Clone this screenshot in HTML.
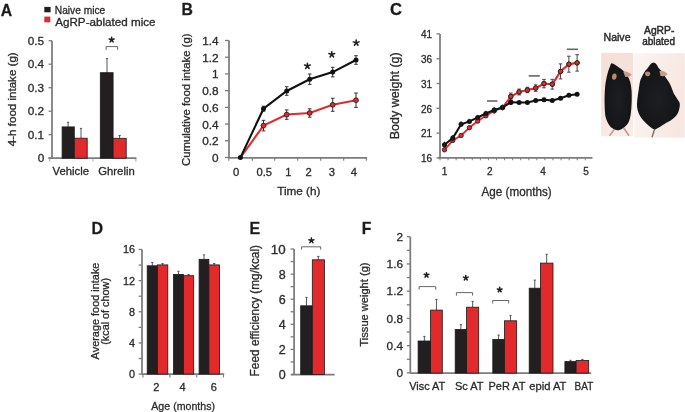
<!DOCTYPE html>
<html><head><meta charset="utf-8"><style>
html,body{margin:0;padding:0;background:#fff;}
body{width:685px;height:412px;overflow:hidden;}
svg{display:block;font-family:"Liberation Sans",sans-serif;filter:blur(0.35px);}
text{stroke:#2b2b2b;stroke-width:0.3px;}
</style></head><body>
<svg width="685" height="412" viewBox="0 0 685 412">
<rect width="685" height="412" fill="#fff"/>
<text x="0.80" y="15.60" font-size="16.5" text-anchor="start" font-weight="bold" fill="#1a1a1a" textLength="11.40" lengthAdjust="spacingAndGlyphs">A</text>
<rect x="44.30" y="6.90" width="6.30" height="5.40" fill="#231f20" stroke="none" stroke-width="0.8"/>
<rect x="44.30" y="16.60" width="6.00" height="5.70" fill="#e2292b" stroke="none" stroke-width="0.8"/>
<text x="54.80" y="13.70" font-size="10.8" text-anchor="start" font-weight="normal" fill="#2b2b2b" textLength="50.40" lengthAdjust="spacingAndGlyphs">Naive mice</text>
<text x="55.20" y="25.50" font-size="10.8" text-anchor="start" font-weight="normal" fill="#2b2b2b" textLength="100.40" lengthAdjust="spacingAndGlyphs">AgRP-ablated mice</text>
<line x1="52.00" y1="40.70" x2="52.00" y2="158.20" stroke="#7c7c7c" stroke-width="1.75"/>
<line x1="48.60" y1="158.20" x2="52.00" y2="158.20" stroke="#7c7c7c" stroke-width="1.3"/>
<text x="44.20" y="162.40" font-size="11.8" text-anchor="end" font-weight="normal" fill="#2b2b2b">0</text>
<line x1="48.60" y1="134.70" x2="52.00" y2="134.70" stroke="#7c7c7c" stroke-width="1.3"/>
<text x="44.20" y="138.90" font-size="11.8" text-anchor="end" font-weight="normal" fill="#2b2b2b">0.1</text>
<line x1="48.60" y1="111.20" x2="52.00" y2="111.20" stroke="#7c7c7c" stroke-width="1.3"/>
<text x="44.20" y="115.40" font-size="11.8" text-anchor="end" font-weight="normal" fill="#2b2b2b">0.2</text>
<line x1="48.60" y1="87.70" x2="52.00" y2="87.70" stroke="#7c7c7c" stroke-width="1.3"/>
<text x="44.20" y="91.90" font-size="11.8" text-anchor="end" font-weight="normal" fill="#2b2b2b">0.3</text>
<line x1="48.60" y1="64.20" x2="52.00" y2="64.20" stroke="#7c7c7c" stroke-width="1.3"/>
<text x="44.20" y="68.40" font-size="11.8" text-anchor="end" font-weight="normal" fill="#2b2b2b">0.4</text>
<line x1="48.60" y1="40.70" x2="52.00" y2="40.70" stroke="#7c7c7c" stroke-width="1.3"/>
<text x="44.20" y="44.90" font-size="11.8" text-anchor="end" font-weight="normal" fill="#2b2b2b">0.5</text>
<line x1="48.30" y1="158.20" x2="136.40" y2="158.20" stroke="#7c7c7c" stroke-width="1.75"/>
<line x1="49.70" y1="158.20" x2="49.70" y2="161.60" stroke="#9a9a9a" stroke-width="0.9"/>
<line x1="93.00" y1="158.20" x2="93.00" y2="161.60" stroke="#9a9a9a" stroke-width="0.9"/>
<line x1="135.90" y1="158.20" x2="135.90" y2="161.60" stroke="#9a9a9a" stroke-width="0.9"/>
<line x1="68.10" y1="126.90" x2="68.10" y2="122.30" stroke="#444" stroke-width="0.9"/>
<line x1="67.00" y1="122.30" x2="69.20" y2="122.30" stroke="#444" stroke-width="0.9"/>
<rect x="62.10" y="126.90" width="12.20" height="31.30" fill="#231f20" stroke="#1a1a1a" stroke-width="0.8"/>
<line x1="81.00" y1="138.20" x2="81.00" y2="128.40" stroke="#444" stroke-width="0.9"/>
<line x1="79.90" y1="128.40" x2="82.10" y2="128.40" stroke="#444" stroke-width="0.9"/>
<rect x="74.30" y="138.20" width="12.90" height="20.00" fill="#e2292b" stroke="#1a1a1a" stroke-width="0.8"/>
<line x1="107.00" y1="72.70" x2="107.00" y2="58.60" stroke="#444" stroke-width="0.9"/>
<line x1="105.90" y1="58.60" x2="108.10" y2="58.60" stroke="#444" stroke-width="0.9"/>
<rect x="100.30" y="72.70" width="12.80" height="85.50" fill="#231f20" stroke="#1a1a1a" stroke-width="0.8"/>
<line x1="119.60" y1="138.30" x2="119.60" y2="135.50" stroke="#444" stroke-width="0.9"/>
<line x1="118.50" y1="135.50" x2="120.70" y2="135.50" stroke="#444" stroke-width="0.9"/>
<rect x="113.10" y="138.30" width="13.10" height="19.90" fill="#e2292b" stroke="#1a1a1a" stroke-width="0.8"/>
<text x="52.60" y="175.00" font-size="11.2" text-anchor="start" font-weight="normal" fill="#2b2b2b" textLength="36.50" lengthAdjust="spacingAndGlyphs">Vehicle</text>
<text x="98.30" y="175.20" font-size="11.2" text-anchor="start" font-weight="normal" fill="#2b2b2b" textLength="36.40" lengthAdjust="spacingAndGlyphs">Ghrelin</text>
<path d="M111.65,39.80 L111.65,37.38 M111.65,39.80 L114.08,39.01 M111.65,39.80 L113.15,41.86 M111.65,39.80 L110.15,41.86 M111.65,39.80 L109.22,39.01 " stroke="#1e1e1e" stroke-width="1.55" stroke-linecap="round" fill="none"/>
<path d="M106.10,49.80 V46.60 H117.60 V49.80" fill="none" stroke="#666" stroke-width="1"/>
<text transform="translate(15.60,146.20) rotate(-90)" font-size="11.5" fill="#2b2b2b" textLength="93.90" lengthAdjust="spacingAndGlyphs">4-h food intake (g)</text>
<text x="181.50" y="15.00" font-size="16.5" text-anchor="start" font-weight="bold" fill="#1a1a1a" textLength="11.40" lengthAdjust="spacingAndGlyphs">B</text>
<line x1="229.00" y1="40.50" x2="229.00" y2="157.50" stroke="#7c7c7c" stroke-width="1.75"/>
<line x1="225.00" y1="157.50" x2="229.00" y2="157.50" stroke="#7c7c7c" stroke-width="1.3"/>
<text x="218.60" y="162.00" font-size="11.8" text-anchor="end" font-weight="normal" fill="#2b2b2b">0</text>
<line x1="225.00" y1="140.79" x2="229.00" y2="140.79" stroke="#7c7c7c" stroke-width="1.3"/>
<text x="218.60" y="145.29" font-size="11.8" text-anchor="end" font-weight="normal" fill="#2b2b2b">0.2</text>
<line x1="225.00" y1="124.07" x2="229.00" y2="124.07" stroke="#7c7c7c" stroke-width="1.3"/>
<text x="218.60" y="128.57" font-size="11.8" text-anchor="end" font-weight="normal" fill="#2b2b2b">0.4</text>
<line x1="225.00" y1="107.36" x2="229.00" y2="107.36" stroke="#7c7c7c" stroke-width="1.3"/>
<text x="218.60" y="111.86" font-size="11.8" text-anchor="end" font-weight="normal" fill="#2b2b2b">0.6</text>
<line x1="225.00" y1="90.64" x2="229.00" y2="90.64" stroke="#7c7c7c" stroke-width="1.3"/>
<text x="218.60" y="95.14" font-size="11.8" text-anchor="end" font-weight="normal" fill="#2b2b2b">0.8</text>
<line x1="225.00" y1="73.93" x2="229.00" y2="73.93" stroke="#7c7c7c" stroke-width="1.3"/>
<text x="218.60" y="78.43" font-size="11.8" text-anchor="end" font-weight="normal" fill="#2b2b2b">1</text>
<line x1="225.00" y1="57.22" x2="229.00" y2="57.22" stroke="#7c7c7c" stroke-width="1.3"/>
<text x="218.60" y="61.72" font-size="11.8" text-anchor="end" font-weight="normal" fill="#2b2b2b">1.2</text>
<line x1="225.00" y1="40.50" x2="229.00" y2="40.50" stroke="#7c7c7c" stroke-width="1.3"/>
<text x="218.60" y="45.00" font-size="11.8" text-anchor="end" font-weight="normal" fill="#2b2b2b">1.4</text>
<line x1="228.30" y1="157.80" x2="367.00" y2="157.80" stroke="#7c7c7c" stroke-width="1.75"/>
<line x1="228.80" y1="157.50" x2="228.80" y2="160.80" stroke="#7c7c7c" stroke-width="1.1"/>
<line x1="252.40" y1="157.50" x2="252.40" y2="160.80" stroke="#7c7c7c" stroke-width="1.1"/>
<line x1="274.70" y1="157.50" x2="274.70" y2="160.80" stroke="#7c7c7c" stroke-width="1.1"/>
<line x1="297.70" y1="157.50" x2="297.70" y2="160.80" stroke="#7c7c7c" stroke-width="1.1"/>
<line x1="320.70" y1="157.50" x2="320.70" y2="160.80" stroke="#7c7c7c" stroke-width="1.1"/>
<line x1="343.70" y1="157.50" x2="343.70" y2="160.80" stroke="#7c7c7c" stroke-width="1.1"/>
<line x1="366.30" y1="157.50" x2="366.30" y2="160.80" stroke="#7c7c7c" stroke-width="1.1"/>
<line x1="263.50" y1="106.20" x2="263.50" y2="111.20" stroke="#333" stroke-width="1"/>
<line x1="261.70" y1="106.20" x2="265.30" y2="106.20" stroke="#333" stroke-width="1"/>
<line x1="261.70" y1="111.20" x2="265.30" y2="111.20" stroke="#333" stroke-width="1"/>
<line x1="286.70" y1="86.70" x2="286.70" y2="95.30" stroke="#333" stroke-width="1"/>
<line x1="284.90" y1="86.70" x2="288.50" y2="86.70" stroke="#333" stroke-width="1"/>
<line x1="284.90" y1="95.30" x2="288.50" y2="95.30" stroke="#333" stroke-width="1"/>
<line x1="309.70" y1="74.00" x2="309.70" y2="84.40" stroke="#333" stroke-width="1"/>
<line x1="307.90" y1="74.00" x2="311.50" y2="74.00" stroke="#333" stroke-width="1"/>
<line x1="307.90" y1="84.40" x2="311.50" y2="84.40" stroke="#333" stroke-width="1"/>
<line x1="332.70" y1="67.30" x2="332.70" y2="76.90" stroke="#333" stroke-width="1"/>
<line x1="330.90" y1="67.30" x2="334.50" y2="67.30" stroke="#333" stroke-width="1"/>
<line x1="330.90" y1="76.90" x2="334.50" y2="76.90" stroke="#333" stroke-width="1"/>
<line x1="356.00" y1="55.70" x2="356.00" y2="64.30" stroke="#333" stroke-width="1"/>
<line x1="354.20" y1="55.70" x2="357.80" y2="55.70" stroke="#333" stroke-width="1"/>
<line x1="354.20" y1="64.30" x2="357.80" y2="64.30" stroke="#333" stroke-width="1"/>
<line x1="263.50" y1="120.30" x2="263.50" y2="130.90" stroke="#333" stroke-width="1"/>
<line x1="261.70" y1="120.30" x2="265.30" y2="120.30" stroke="#333" stroke-width="1"/>
<line x1="261.70" y1="130.90" x2="265.30" y2="130.90" stroke="#333" stroke-width="1"/>
<line x1="286.70" y1="109.90" x2="286.70" y2="119.30" stroke="#333" stroke-width="1"/>
<line x1="284.90" y1="109.90" x2="288.50" y2="109.90" stroke="#333" stroke-width="1"/>
<line x1="284.90" y1="119.30" x2="288.50" y2="119.30" stroke="#333" stroke-width="1"/>
<line x1="309.70" y1="108.80" x2="309.70" y2="117.20" stroke="#333" stroke-width="1"/>
<line x1="307.90" y1="108.80" x2="311.50" y2="108.80" stroke="#333" stroke-width="1"/>
<line x1="307.90" y1="117.20" x2="311.50" y2="117.20" stroke="#333" stroke-width="1"/>
<line x1="332.70" y1="98.30" x2="332.70" y2="111.30" stroke="#333" stroke-width="1"/>
<line x1="330.90" y1="98.30" x2="334.50" y2="98.30" stroke="#333" stroke-width="1"/>
<line x1="330.90" y1="111.30" x2="334.50" y2="111.30" stroke="#333" stroke-width="1"/>
<line x1="356.00" y1="93.00" x2="356.00" y2="107.40" stroke="#333" stroke-width="1"/>
<line x1="354.20" y1="93.00" x2="357.80" y2="93.00" stroke="#333" stroke-width="1"/>
<line x1="354.20" y1="107.40" x2="357.80" y2="107.40" stroke="#333" stroke-width="1"/>
<polyline points="240.4,157.6 263.5,125.6 286.7,114.6 309.7,113.0 332.7,104.8 356.0,100.2" fill="none" stroke="#e2292b" stroke-width="2"/>
<polyline points="240.4,157.6 263.5,108.7 286.7,91.0 309.7,79.2 332.7,72.1 356.0,60.0" fill="none" stroke="#111" stroke-width="2.1"/>
<circle cx="263.5" cy="125.6" r="2.4" fill="#e2292b" stroke="#222" stroke-width="0.9"/>
<circle cx="286.7" cy="114.6" r="2.4" fill="#e2292b" stroke="#222" stroke-width="0.9"/>
<circle cx="309.7" cy="113.0" r="2.4" fill="#e2292b" stroke="#222" stroke-width="0.9"/>
<circle cx="332.7" cy="104.8" r="2.4" fill="#e2292b" stroke="#222" stroke-width="0.9"/>
<circle cx="356.0" cy="100.2" r="2.4" fill="#e2292b" stroke="#222" stroke-width="0.9"/>
<circle cx="240.4" cy="157.6" r="2.5" fill="#111"/>
<circle cx="263.5" cy="108.7" r="2.5" fill="#111"/>
<circle cx="286.7" cy="91.0" r="2.5" fill="#111"/>
<circle cx="309.7" cy="79.2" r="2.5" fill="#111"/>
<circle cx="332.7" cy="72.1" r="2.5" fill="#111"/>
<circle cx="356.0" cy="60.0" r="2.5" fill="#111"/>
<text x="236.00" y="175.50" font-size="11.2" text-anchor="middle" font-weight="normal" fill="#2b2b2b">0</text>
<text x="264.30" y="175.50" font-size="11.2" text-anchor="middle" font-weight="normal" fill="#2b2b2b">0.5</text>
<text x="288.30" y="175.50" font-size="11.2" text-anchor="middle" font-weight="normal" fill="#2b2b2b">1</text>
<text x="308.60" y="175.50" font-size="11.2" text-anchor="middle" font-weight="normal" fill="#2b2b2b">2</text>
<text x="331.80" y="175.50" font-size="11.2" text-anchor="middle" font-weight="normal" fill="#2b2b2b">3</text>
<text x="353.80" y="175.50" font-size="11.2" text-anchor="middle" font-weight="normal" fill="#2b2b2b">4</text>
<text x="277.20" y="194.80" font-size="11.3" text-anchor="start" font-weight="normal" fill="#2b2b2b" textLength="43.30" lengthAdjust="spacingAndGlyphs">Time (h)</text>
<path d="M307.40,66.00 L307.40,63.15 M307.40,66.00 L310.25,65.07 M307.40,66.00 L309.16,68.43 M307.40,66.00 L305.64,68.43 M307.40,66.00 L304.55,65.07 " stroke="#1e1e1e" stroke-width="1.55" stroke-linecap="round" fill="none"/>
<path d="M331.80,54.50 L331.80,51.65 M331.80,54.50 L334.65,53.57 M331.80,54.50 L333.56,56.93 M331.80,54.50 L330.04,56.93 M331.80,54.50 L328.95,53.57 " stroke="#1e1e1e" stroke-width="1.55" stroke-linecap="round" fill="none"/>
<path d="M356.20,42.80 L356.20,39.95 M356.20,42.80 L359.05,41.87 M356.20,42.80 L357.96,45.23 M356.20,42.80 L354.44,45.23 M356.20,42.80 L353.35,41.87 " stroke="#1e1e1e" stroke-width="1.55" stroke-linecap="round" fill="none"/>
<text transform="translate(189.90,166.00) rotate(-90)" font-size="11.8" fill="#2b2b2b" textLength="132.50" lengthAdjust="spacingAndGlyphs">Cumulative food intake (g)</text>
<text x="390.00" y="15.00" font-size="16.5" text-anchor="start" font-weight="bold" fill="#1a1a1a" textLength="12.00" lengthAdjust="spacingAndGlyphs">C</text>
<line x1="440.00" y1="33.90" x2="440.00" y2="157.90" stroke="#7c7c7c" stroke-width="1.75"/>
<line x1="436.50" y1="157.90" x2="440.00" y2="157.90" stroke="#7c7c7c" stroke-width="1.3"/>
<text x="432.00" y="162.10" font-size="10" text-anchor="end" font-weight="normal" fill="#2b2b2b">16</text>
<line x1="436.50" y1="133.10" x2="440.00" y2="133.10" stroke="#7c7c7c" stroke-width="1.3"/>
<text x="432.00" y="137.30" font-size="10" text-anchor="end" font-weight="normal" fill="#2b2b2b">21</text>
<line x1="436.50" y1="108.30" x2="440.00" y2="108.30" stroke="#7c7c7c" stroke-width="1.3"/>
<text x="432.00" y="112.50" font-size="10" text-anchor="end" font-weight="normal" fill="#2b2b2b">26</text>
<line x1="436.50" y1="83.50" x2="440.00" y2="83.50" stroke="#7c7c7c" stroke-width="1.3"/>
<text x="432.00" y="87.70" font-size="10" text-anchor="end" font-weight="normal" fill="#2b2b2b">31</text>
<line x1="436.50" y1="58.70" x2="440.00" y2="58.70" stroke="#7c7c7c" stroke-width="1.3"/>
<text x="432.00" y="62.90" font-size="10" text-anchor="end" font-weight="normal" fill="#2b2b2b">36</text>
<line x1="436.50" y1="33.90" x2="440.00" y2="33.90" stroke="#7c7c7c" stroke-width="1.3"/>
<text x="432.00" y="38.10" font-size="10" text-anchor="end" font-weight="normal" fill="#2b2b2b">41</text>
<line x1="438.10" y1="157.80" x2="592.50" y2="157.80" stroke="#7c7c7c" stroke-width="1.75"/>
<line x1="440.00" y1="157.80" x2="440.00" y2="160.30" stroke="#7c7c7c" stroke-width="1.0"/>
<line x1="448.07" y1="157.80" x2="448.07" y2="160.30" stroke="#7c7c7c" stroke-width="1.0"/>
<line x1="456.14" y1="157.80" x2="456.14" y2="160.30" stroke="#7c7c7c" stroke-width="1.0"/>
<line x1="464.21" y1="157.80" x2="464.21" y2="160.30" stroke="#7c7c7c" stroke-width="1.0"/>
<line x1="472.28" y1="157.80" x2="472.28" y2="160.30" stroke="#7c7c7c" stroke-width="1.0"/>
<line x1="480.35" y1="157.80" x2="480.35" y2="160.30" stroke="#7c7c7c" stroke-width="1.0"/>
<line x1="488.42" y1="157.80" x2="488.42" y2="160.30" stroke="#7c7c7c" stroke-width="1.0"/>
<line x1="496.49" y1="157.80" x2="496.49" y2="160.30" stroke="#7c7c7c" stroke-width="1.0"/>
<line x1="504.56" y1="157.80" x2="504.56" y2="160.30" stroke="#7c7c7c" stroke-width="1.0"/>
<line x1="512.63" y1="157.80" x2="512.63" y2="160.30" stroke="#7c7c7c" stroke-width="1.0"/>
<line x1="520.70" y1="157.80" x2="520.70" y2="160.30" stroke="#7c7c7c" stroke-width="1.0"/>
<line x1="528.77" y1="157.80" x2="528.77" y2="160.30" stroke="#7c7c7c" stroke-width="1.0"/>
<line x1="536.84" y1="157.80" x2="536.84" y2="160.30" stroke="#7c7c7c" stroke-width="1.0"/>
<line x1="544.91" y1="157.80" x2="544.91" y2="160.30" stroke="#7c7c7c" stroke-width="1.0"/>
<line x1="552.98" y1="157.80" x2="552.98" y2="160.30" stroke="#7c7c7c" stroke-width="1.0"/>
<line x1="561.05" y1="157.80" x2="561.05" y2="160.30" stroke="#7c7c7c" stroke-width="1.0"/>
<line x1="569.12" y1="157.80" x2="569.12" y2="160.30" stroke="#7c7c7c" stroke-width="1.0"/>
<line x1="577.19" y1="157.80" x2="577.19" y2="160.30" stroke="#7c7c7c" stroke-width="1.0"/>
<line x1="585.26" y1="157.80" x2="585.26" y2="160.30" stroke="#7c7c7c" stroke-width="1.0"/>
<text x="444.60" y="175.30" font-size="10" text-anchor="middle" font-weight="normal" fill="#2b2b2b">1</text>
<text x="489.70" y="175.30" font-size="10" text-anchor="middle" font-weight="normal" fill="#2b2b2b">2</text>
<text x="543.00" y="175.30" font-size="10" text-anchor="middle" font-weight="normal" fill="#2b2b2b">4</text>
<text x="586.00" y="175.30" font-size="10" text-anchor="middle" font-weight="normal" fill="#2b2b2b">5</text>
<text x="481.50" y="195.70" font-size="12.3" text-anchor="start" font-weight="normal" fill="#2b2b2b" textLength="70.20" lengthAdjust="spacingAndGlyphs">Age (months)</text>
<text transform="translate(399.10,139.30) rotate(-90)" font-size="12.6" fill="#2b2b2b" textLength="87.00" lengthAdjust="spacingAndGlyphs">Body weight (g)</text>
<line x1="510.82" y1="93.10" x2="510.82" y2="99.90" stroke="#444" stroke-width="1"/>
<line x1="509.02" y1="93.10" x2="512.62" y2="93.10" stroke="#444" stroke-width="1"/>
<line x1="509.02" y1="99.90" x2="512.62" y2="99.90" stroke="#444" stroke-width="1"/>
<line x1="519.11" y1="89.10" x2="519.11" y2="94.90" stroke="#444" stroke-width="1"/>
<line x1="517.31" y1="89.10" x2="520.91" y2="89.10" stroke="#444" stroke-width="1"/>
<line x1="517.31" y1="94.90" x2="520.91" y2="94.90" stroke="#444" stroke-width="1"/>
<line x1="527.40" y1="87.30" x2="527.40" y2="92.70" stroke="#444" stroke-width="1"/>
<line x1="525.60" y1="87.30" x2="529.20" y2="87.30" stroke="#444" stroke-width="1"/>
<line x1="525.60" y1="92.70" x2="529.20" y2="92.70" stroke="#444" stroke-width="1"/>
<line x1="535.69" y1="84.90" x2="535.69" y2="91.30" stroke="#444" stroke-width="1"/>
<line x1="533.89" y1="84.90" x2="537.49" y2="84.90" stroke="#444" stroke-width="1"/>
<line x1="533.89" y1="91.30" x2="537.49" y2="91.30" stroke="#444" stroke-width="1"/>
<line x1="543.98" y1="79.40" x2="543.98" y2="87.80" stroke="#444" stroke-width="1"/>
<line x1="542.18" y1="79.40" x2="545.78" y2="79.40" stroke="#444" stroke-width="1"/>
<line x1="542.18" y1="87.80" x2="545.78" y2="87.80" stroke="#444" stroke-width="1"/>
<line x1="552.27" y1="79.30" x2="552.27" y2="89.10" stroke="#444" stroke-width="1"/>
<line x1="550.47" y1="79.30" x2="554.07" y2="79.30" stroke="#444" stroke-width="1"/>
<line x1="550.47" y1="89.10" x2="554.07" y2="89.10" stroke="#444" stroke-width="1"/>
<line x1="560.56" y1="63.90" x2="560.56" y2="78.90" stroke="#444" stroke-width="1"/>
<line x1="558.76" y1="63.90" x2="562.36" y2="63.90" stroke="#444" stroke-width="1"/>
<line x1="558.76" y1="78.90" x2="562.36" y2="78.90" stroke="#444" stroke-width="1"/>
<line x1="568.85" y1="56.20" x2="568.85" y2="72.20" stroke="#444" stroke-width="1"/>
<line x1="567.05" y1="56.20" x2="570.65" y2="56.20" stroke="#444" stroke-width="1"/>
<line x1="567.05" y1="72.20" x2="570.65" y2="72.20" stroke="#444" stroke-width="1"/>
<line x1="577.14" y1="54.70" x2="577.14" y2="71.10" stroke="#444" stroke-width="1"/>
<line x1="575.34" y1="54.70" x2="578.94" y2="54.70" stroke="#444" stroke-width="1"/>
<line x1="575.34" y1="71.10" x2="578.94" y2="71.10" stroke="#444" stroke-width="1"/>
<polyline points="444.5,149.8 452.8,140.4 461.1,135.5 469.4,127.7 477.7,121.1 485.9,115.8 494.2,111.0 502.5,107.5 510.8,96.5 519.1,92.0 527.4,90.0 535.7,88.1 544.0,83.6 552.3,84.2 560.6,71.4 568.9,64.2 577.1,62.9" fill="none" stroke="#e2292b" stroke-width="1.8"/>
<circle cx="444.5" cy="149.8" r="2.2" fill="#e2292b" stroke="#222" stroke-width="0.9"/>
<circle cx="452.8" cy="140.4" r="2.2" fill="#e2292b" stroke="#222" stroke-width="0.9"/>
<circle cx="461.1" cy="135.5" r="2.2" fill="#e2292b" stroke="#222" stroke-width="0.9"/>
<circle cx="469.4" cy="127.7" r="2.2" fill="#e2292b" stroke="#222" stroke-width="0.9"/>
<circle cx="477.7" cy="121.1" r="2.2" fill="#e2292b" stroke="#222" stroke-width="0.9"/>
<circle cx="485.9" cy="115.8" r="2.2" fill="#e2292b" stroke="#222" stroke-width="0.9"/>
<circle cx="494.2" cy="111.0" r="2.2" fill="#e2292b" stroke="#222" stroke-width="0.9"/>
<circle cx="502.5" cy="107.5" r="2.2" fill="#e2292b" stroke="#222" stroke-width="0.9"/>
<circle cx="510.8" cy="96.5" r="2.2" fill="#e2292b" stroke="#222" stroke-width="0.9"/>
<circle cx="519.1" cy="92.0" r="2.2" fill="#e2292b" stroke="#222" stroke-width="0.9"/>
<circle cx="527.4" cy="90.0" r="2.2" fill="#e2292b" stroke="#222" stroke-width="0.9"/>
<circle cx="535.7" cy="88.1" r="2.2" fill="#e2292b" stroke="#222" stroke-width="0.9"/>
<circle cx="544.0" cy="83.6" r="2.2" fill="#e2292b" stroke="#222" stroke-width="0.9"/>
<circle cx="552.3" cy="84.2" r="2.2" fill="#e2292b" stroke="#222" stroke-width="0.9"/>
<circle cx="560.6" cy="71.4" r="2.2" fill="#e2292b" stroke="#222" stroke-width="0.9"/>
<circle cx="568.9" cy="64.2" r="2.2" fill="#e2292b" stroke="#222" stroke-width="0.9"/>
<circle cx="577.1" cy="62.9" r="2.2" fill="#e2292b" stroke="#222" stroke-width="0.9"/>
<polyline points="444.5,144.7 452.8,138.1 461.1,124.3 469.4,121.4 477.7,117.5 485.9,113.4 494.2,110.0 502.5,107.5 510.8,102.2" fill="none" stroke="#111" stroke-width="2.1"/>
<circle cx="444.5" cy="144.7" r="2.5" fill="#111"/>
<line x1="444.50" y1="141.60" x2="444.50" y2="147.80" stroke="#222" stroke-width="1.1"/>
<circle cx="452.8" cy="138.1" r="2.5" fill="#111"/>
<line x1="452.79" y1="135.00" x2="452.79" y2="141.20" stroke="#222" stroke-width="1.1"/>
<circle cx="461.1" cy="124.3" r="2.5" fill="#111"/>
<line x1="461.08" y1="121.50" x2="461.08" y2="127.10" stroke="#222" stroke-width="1.1"/>
<circle cx="469.4" cy="121.4" r="2.5" fill="#111"/>
<line x1="469.37" y1="118.80" x2="469.37" y2="124.00" stroke="#222" stroke-width="1.1"/>
<circle cx="477.7" cy="117.5" r="2.5" fill="#111"/>
<line x1="477.66" y1="114.90" x2="477.66" y2="120.10" stroke="#222" stroke-width="1.1"/>
<circle cx="485.9" cy="113.4" r="2.5" fill="#111"/>
<line x1="485.95" y1="110.80" x2="485.95" y2="116.00" stroke="#222" stroke-width="1.1"/>
<circle cx="494.2" cy="110.0" r="2.5" fill="#111"/>
<line x1="494.24" y1="107.10" x2="494.24" y2="112.90" stroke="#222" stroke-width="1.1"/>
<circle cx="502.5" cy="107.5" r="2.5" fill="#111"/>
<line x1="502.53" y1="104.60" x2="502.53" y2="110.40" stroke="#222" stroke-width="1.1"/>
<circle cx="510.8" cy="102.2" r="2.5" fill="#111"/>
<line x1="510.82" y1="99.60" x2="510.82" y2="104.80" stroke="#222" stroke-width="1.1"/>
<polyline points="510.8,102.2 519.1,102.5 527.4,102.5 535.7,100.5 544.0,99.7 552.3,100.5 560.6,98.2 568.9,95.3 577.1,94.3" fill="none" stroke="#111" stroke-width="2.1"/>
<circle cx="510.8" cy="102.2" r="2.5" fill="#111"/>
<circle cx="519.1" cy="102.5" r="2.5" fill="#111"/>
<circle cx="527.4" cy="102.5" r="2.5" fill="#111"/>
<circle cx="535.7" cy="100.5" r="2.5" fill="#111"/>
<circle cx="544.0" cy="99.7" r="2.5" fill="#111"/>
<circle cx="552.3" cy="100.5" r="2.5" fill="#111"/>
<circle cx="560.6" cy="98.2" r="2.5" fill="#111"/>
<circle cx="568.9" cy="95.3" r="2.5" fill="#111"/>
<circle cx="577.1" cy="94.3" r="2.5" fill="#111"/>
<polyline points="510.8,96.5 519.1,92.0 527.4,90.0 535.7,88.1 544.0,83.6 552.3,84.2 560.6,71.4 568.9,64.2 577.1,62.9" fill="none" stroke="#e2292b" stroke-width="1.8"/>
<circle cx="510.8" cy="96.5" r="2.2" fill="#e2292b" stroke="#222" stroke-width="0.9"/>
<circle cx="519.1" cy="92.0" r="2.2" fill="#e2292b" stroke="#222" stroke-width="0.9"/>
<circle cx="527.4" cy="90.0" r="2.2" fill="#e2292b" stroke="#222" stroke-width="0.9"/>
<circle cx="535.7" cy="88.1" r="2.2" fill="#e2292b" stroke="#222" stroke-width="0.9"/>
<circle cx="544.0" cy="83.6" r="2.2" fill="#e2292b" stroke="#222" stroke-width="0.9"/>
<circle cx="552.3" cy="84.2" r="2.2" fill="#e2292b" stroke="#222" stroke-width="0.9"/>
<circle cx="560.6" cy="71.4" r="2.2" fill="#e2292b" stroke="#222" stroke-width="0.9"/>
<circle cx="568.9" cy="64.2" r="2.2" fill="#e2292b" stroke="#222" stroke-width="0.9"/>
<circle cx="577.1" cy="62.9" r="2.2" fill="#e2292b" stroke="#222" stroke-width="0.9"/>
<line x1="486.90" y1="101.00" x2="497.40" y2="101.00" stroke="#666" stroke-width="1.6"/>
<line x1="528.70" y1="75.90" x2="539.80" y2="75.90" stroke="#666" stroke-width="1.6"/>
<line x1="566.90" y1="49.30" x2="578.00" y2="49.30" stroke="#666" stroke-width="1.6"/>
<defs><linearGradient id="bgL" x1="0" y1="0" x2="0.3" y2="1"><stop offset="0" stop-color="#f6e0d8"/><stop offset="0.7" stop-color="#f5e2dc"/><stop offset="1" stop-color="#f8ece9"/></linearGradient><radialGradient id="mg" cx="0.5" cy="0.55" r="0.6"><stop offset="0" stop-color="#1d1e21"/><stop offset="1" stop-color="#121315"/></radialGradient><linearGradient id="bgR" x1="0" y1="0" x2="1" y2="0.3"><stop offset="0" stop-color="#fbf5f2"/><stop offset="0.5" stop-color="#f9eeea"/><stop offset="1" stop-color="#f8e7e1"/></linearGradient></defs>
<rect x="601.2" y="52.8" width="32" height="83.6" fill="url(#bgL)"/>
<rect x="634.4" y="53.2" width="50.3" height="84.3" fill="url(#bgR)"/>
<path d="M614.5,129 L609.5,135.8 M623.5,127.5 L629,135.8" stroke="#c49a8c" stroke-width="1.6" fill="none"/>
<path d="M611.50,63.30 C612.33,63.02 613.75,64.10 615.00,64.80 C616.25,65.50 617.58,66.47 619.00,67.50 C620.42,68.53 622.08,69.58 623.50,71.00 C624.92,72.42 626.38,74.17 627.50,76.00 C628.62,77.83 629.53,79.67 630.20,82.00 C630.87,84.33 631.25,87.00 631.50,90.00 C631.75,93.00 631.75,96.67 631.70,100.00 C631.65,103.33 631.48,107.00 631.20,110.00 C630.92,113.00 630.62,115.67 630.00,118.00 C629.38,120.33 628.75,122.25 627.50,124.00 C626.25,125.75 624.17,127.45 622.50,128.50 C620.83,129.55 619.25,130.38 617.50,130.30 C615.75,130.22 613.50,129.05 612.00,128.00 C610.50,126.95 609.57,125.83 608.50,124.00 C607.43,122.17 606.23,119.83 605.60,117.00 C604.97,114.17 604.87,110.50 604.70,107.00 C604.53,103.50 604.52,99.50 604.60,96.00 C604.68,92.50 604.88,89.00 605.20,86.00 C605.52,83.00 605.98,80.50 606.50,78.00 C607.02,75.50 607.72,72.92 608.30,71.00 C608.88,69.08 609.47,67.78 610.00,66.50 C610.53,65.22 610.67,63.58 611.50,63.30 Z" fill="url(#mg)"/>
<ellipse cx="614.3" cy="76.6" rx="2.3" ry="3.2" fill="#b98b6a" transform="rotate(8 614.3 76.6)"/>
<path d="M623.3,71.8 C626,70.8 629.2,72.2 631.8,74.8 C631,76.4 628,76.8 625.3,77 Z" fill="#c99c86"/>
<path d="M655,128 L652,137.3" stroke="#7d6e6a" stroke-width="1.4" fill="none"/>
<path d="M653.50,62.50 C654.45,62.50 655.42,63.35 656.30,64.30 C657.18,65.25 657.85,67.00 658.80,68.20 C659.75,69.40 660.88,70.00 662.00,71.50 C663.12,73.00 664.33,75.42 665.50,77.20 C666.67,78.98 668.00,80.48 669.00,82.20 C670.00,83.92 670.70,85.62 671.50,87.50 C672.30,89.38 672.88,91.67 673.80,93.50 C674.72,95.33 676.03,96.92 677.00,98.50 C677.97,100.08 679.20,101.38 679.60,103.00 C680.00,104.62 679.80,106.32 679.40,108.20 C679.00,110.08 678.43,112.40 677.20,114.30 C675.97,116.20 674.12,117.98 672.00,119.60 C669.88,121.22 666.83,122.60 664.50,124.00 C662.17,125.40 659.72,127.13 658.00,128.00 C656.28,128.87 655.50,129.37 654.20,129.20 C652.90,129.03 651.88,128.32 650.20,127.00 C648.52,125.68 645.77,123.08 644.10,121.30 C642.43,119.52 641.28,118.18 640.20,116.30 C639.12,114.42 638.13,112.05 637.60,110.00 C637.07,107.95 637.00,106.08 637.00,104.00 C637.00,101.92 637.33,99.75 637.60,97.50 C637.87,95.25 638.22,93.08 638.60,90.50 C638.98,87.92 639.37,84.25 639.90,82.00 C640.43,79.75 640.95,78.78 641.80,77.00 C642.65,75.22 644.03,72.75 645.00,71.30 C645.97,69.85 646.67,69.47 647.60,68.30 C648.53,67.13 649.62,65.27 650.60,64.30 C651.58,63.33 652.55,62.50 653.50,62.50 Z" fill="url(#mg)"/>
<ellipse cx="647.6" cy="73.8" rx="2.6" ry="2.4" fill="#b98b6a"/>
<path d="M659.5,71 C662.5,70.3 665.5,71.8 667.6,74 C667,75.8 664,76.5 660.5,76 Z" fill="#c99c86"/>
<text x="603.50" y="41.00" font-size="10.9" text-anchor="start" font-weight="normal" fill="#2b2b2b" textLength="27.00" lengthAdjust="spacingAndGlyphs" style="stroke-width:0.42px">Naive</text>
<text x="644.00" y="33.60" font-size="10.5" text-anchor="start" font-weight="normal" fill="#2b2b2b" textLength="30.40" lengthAdjust="spacingAndGlyphs" style="stroke-width:0.45px">AgRP-</text>
<text x="642.20" y="44.90" font-size="10.5" text-anchor="start" font-weight="normal" fill="#2b2b2b" textLength="32.80" lengthAdjust="spacingAndGlyphs" style="stroke-width:0.45px">ablated</text>
<text x="91.50" y="233.60" font-size="16.5" text-anchor="start" font-weight="bold" fill="#1a1a1a" textLength="11.60" lengthAdjust="spacingAndGlyphs">D</text>
<line x1="142.00" y1="249.46" x2="142.00" y2="374.10" stroke="#7c7c7c" stroke-width="1.75"/>
<line x1="138.60" y1="374.10" x2="142.00" y2="374.10" stroke="#7c7c7c" stroke-width="1.3"/>
<text x="135.00" y="378.00" font-size="10.8" text-anchor="end" font-weight="normal" fill="#2b2b2b">0</text>
<line x1="138.60" y1="358.52" x2="142.00" y2="358.52" stroke="#7c7c7c" stroke-width="1.3"/>
<line x1="138.60" y1="342.94" x2="142.00" y2="342.94" stroke="#7c7c7c" stroke-width="1.3"/>
<text x="135.00" y="346.84" font-size="10.8" text-anchor="end" font-weight="normal" fill="#2b2b2b">4</text>
<line x1="138.60" y1="327.36" x2="142.00" y2="327.36" stroke="#7c7c7c" stroke-width="1.3"/>
<line x1="138.60" y1="311.78" x2="142.00" y2="311.78" stroke="#7c7c7c" stroke-width="1.3"/>
<text x="135.00" y="315.68" font-size="10.8" text-anchor="end" font-weight="normal" fill="#2b2b2b">8</text>
<line x1="138.60" y1="296.20" x2="142.00" y2="296.20" stroke="#7c7c7c" stroke-width="1.3"/>
<line x1="138.60" y1="280.62" x2="142.00" y2="280.62" stroke="#7c7c7c" stroke-width="1.3"/>
<text x="135.00" y="284.52" font-size="10.8" text-anchor="end" font-weight="normal" fill="#2b2b2b">12</text>
<line x1="138.60" y1="265.04" x2="142.00" y2="265.04" stroke="#7c7c7c" stroke-width="1.3"/>
<line x1="138.60" y1="249.46" x2="142.00" y2="249.46" stroke="#7c7c7c" stroke-width="1.3"/>
<text x="135.00" y="253.36" font-size="10.8" text-anchor="end" font-weight="normal" fill="#2b2b2b">16</text>
<line x1="141.40" y1="374.10" x2="224.20" y2="374.10" stroke="#7c7c7c" stroke-width="1.75"/>
<line x1="143.00" y1="374.10" x2="143.00" y2="377.40" stroke="#7c7c7c" stroke-width="1.1"/>
<line x1="169.90" y1="374.10" x2="169.90" y2="377.40" stroke="#7c7c7c" stroke-width="1.1"/>
<line x1="196.70" y1="374.10" x2="196.70" y2="377.40" stroke="#7c7c7c" stroke-width="1.1"/>
<line x1="223.50" y1="374.10" x2="223.50" y2="377.40" stroke="#7c7c7c" stroke-width="1.1"/>
<line x1="152.30" y1="265.80" x2="152.30" y2="262.50" stroke="#444" stroke-width="0.9"/>
<line x1="151.20" y1="262.50" x2="153.40" y2="262.50" stroke="#444" stroke-width="0.9"/>
<rect x="147.20" y="265.80" width="10.20" height="108.30" fill="#231f20" stroke="#1a1a1a" stroke-width="0.8"/>
<line x1="162.60" y1="264.90" x2="162.60" y2="263.60" stroke="#444" stroke-width="0.9"/>
<line x1="161.50" y1="263.60" x2="163.70" y2="263.60" stroke="#444" stroke-width="0.9"/>
<rect x="157.40" y="264.90" width="10.40" height="109.20" fill="#e2292b" stroke="#1a1a1a" stroke-width="0.8"/>
<line x1="178.45" y1="274.40" x2="178.45" y2="271.30" stroke="#444" stroke-width="0.9"/>
<line x1="177.35" y1="271.30" x2="179.55" y2="271.30" stroke="#444" stroke-width="0.9"/>
<rect x="173.50" y="274.40" width="9.90" height="99.70" fill="#231f20" stroke="#1a1a1a" stroke-width="0.8"/>
<line x1="188.55" y1="275.70" x2="188.55" y2="274.60" stroke="#444" stroke-width="0.9"/>
<line x1="187.45" y1="274.60" x2="189.65" y2="274.60" stroke="#444" stroke-width="0.9"/>
<rect x="183.40" y="275.70" width="10.30" height="98.40" fill="#e2292b" stroke="#1a1a1a" stroke-width="0.8"/>
<line x1="204.00" y1="259.30" x2="204.00" y2="254.90" stroke="#444" stroke-width="0.9"/>
<line x1="202.90" y1="254.90" x2="205.10" y2="254.90" stroke="#444" stroke-width="0.9"/>
<rect x="199.10" y="259.30" width="9.80" height="114.80" fill="#231f20" stroke="#1a1a1a" stroke-width="0.8"/>
<line x1="214.20" y1="264.90" x2="214.20" y2="263.50" stroke="#444" stroke-width="0.9"/>
<line x1="213.10" y1="263.50" x2="215.30" y2="263.50" stroke="#444" stroke-width="0.9"/>
<rect x="208.90" y="264.90" width="10.60" height="109.20" fill="#e2292b" stroke="#1a1a1a" stroke-width="0.8"/>
<text x="156.30" y="391.20" font-size="11" text-anchor="middle" font-weight="normal" fill="#2b2b2b">2</text>
<text x="182.60" y="391.20" font-size="11" text-anchor="middle" font-weight="normal" fill="#2b2b2b">4</text>
<text x="213.90" y="391.20" font-size="11" text-anchor="middle" font-weight="normal" fill="#2b2b2b">6</text>
<text x="151.30" y="409.60" font-size="11.2" text-anchor="start" font-weight="normal" fill="#2b2b2b" textLength="63.70" lengthAdjust="spacingAndGlyphs">Age (months)</text>
<text transform="translate(98.80,359.40) rotate(-90)" font-size="11.2" fill="#2b2b2b" textLength="96.80" lengthAdjust="spacingAndGlyphs">Average food intake</text>
<text transform="translate(109.00,344.80) rotate(-90)" font-size="11.2" fill="#2b2b2b" textLength="66.80" lengthAdjust="spacingAndGlyphs">(kcal of chow)</text>
<text x="249.50" y="233.60" font-size="16.5" text-anchor="start" font-weight="bold" fill="#1a1a1a" textLength="10.60" lengthAdjust="spacingAndGlyphs">E</text>
<line x1="294.10" y1="249.00" x2="294.10" y2="374.50" stroke="#7c7c7c" stroke-width="1.75"/>
<line x1="290.60" y1="374.50" x2="294.10" y2="374.50" stroke="#7c7c7c" stroke-width="1.3"/>
<text x="285.60" y="379.00" font-size="12.5" text-anchor="end" font-weight="normal" fill="#2b2b2b">0</text>
<line x1="290.60" y1="361.95" x2="294.10" y2="361.95" stroke="#7c7c7c" stroke-width="1.3"/>
<line x1="290.60" y1="349.40" x2="294.10" y2="349.40" stroke="#7c7c7c" stroke-width="1.3"/>
<text x="285.60" y="353.90" font-size="12.5" text-anchor="end" font-weight="normal" fill="#2b2b2b">2</text>
<line x1="290.60" y1="336.85" x2="294.10" y2="336.85" stroke="#7c7c7c" stroke-width="1.3"/>
<line x1="290.60" y1="324.30" x2="294.10" y2="324.30" stroke="#7c7c7c" stroke-width="1.3"/>
<text x="285.60" y="328.80" font-size="12.5" text-anchor="end" font-weight="normal" fill="#2b2b2b">4</text>
<line x1="290.60" y1="311.75" x2="294.10" y2="311.75" stroke="#7c7c7c" stroke-width="1.3"/>
<line x1="290.60" y1="299.20" x2="294.10" y2="299.20" stroke="#7c7c7c" stroke-width="1.3"/>
<text x="285.60" y="303.70" font-size="12.5" text-anchor="end" font-weight="normal" fill="#2b2b2b">6</text>
<line x1="290.60" y1="286.65" x2="294.10" y2="286.65" stroke="#7c7c7c" stroke-width="1.3"/>
<line x1="290.60" y1="274.10" x2="294.10" y2="274.10" stroke="#7c7c7c" stroke-width="1.3"/>
<text x="285.60" y="278.60" font-size="12.5" text-anchor="end" font-weight="normal" fill="#2b2b2b">8</text>
<line x1="290.60" y1="261.55" x2="294.10" y2="261.55" stroke="#7c7c7c" stroke-width="1.3"/>
<line x1="290.60" y1="249.00" x2="294.10" y2="249.00" stroke="#7c7c7c" stroke-width="1.3"/>
<text x="285.60" y="253.60" font-size="12.5" text-anchor="end" font-weight="normal" fill="#2b2b2b" textLength="14.80" lengthAdjust="spacingAndGlyphs">10</text>
<line x1="291.00" y1="374.50" x2="334.70" y2="374.50" stroke="#7c7c7c" stroke-width="1.75"/>
<line x1="306.50" y1="305.80" x2="306.50" y2="297.40" stroke="#444" stroke-width="0.9"/>
<line x1="305.40" y1="297.40" x2="307.60" y2="297.40" stroke="#444" stroke-width="0.9"/>
<rect x="300.70" y="305.80" width="11.60" height="68.70" fill="#231f20" stroke="#1a1a1a" stroke-width="0.8"/>
<line x1="318.30" y1="259.80" x2="318.30" y2="256.40" stroke="#444" stroke-width="0.9"/>
<line x1="317.20" y1="256.40" x2="319.40" y2="256.40" stroke="#444" stroke-width="0.9"/>
<rect x="312.30" y="259.80" width="12.10" height="114.70" fill="#e2292b" stroke="#1a1a1a" stroke-width="0.8"/>
<path d="M311.40,240.50 L311.40,238.03 M311.40,240.50 L313.87,239.70 M311.40,240.50 L312.93,242.60 M311.40,240.50 L309.87,242.60 M311.40,240.50 L308.93,239.70 " stroke="#1e1e1e" stroke-width="1.55" stroke-linecap="round" fill="none"/>
<path d="M301.50,249.50 V246.80 H320.70 V249.50" fill="none" stroke="#666" stroke-width="1"/>
<text transform="translate(259.20,376.40) rotate(-90)" font-size="12.4" fill="#2b2b2b" textLength="131.40" lengthAdjust="spacingAndGlyphs">Feed efficiency (mg/kcal)</text>
<text x="361.80" y="233.60" font-size="16.5" text-anchor="start" font-weight="bold" fill="#1a1a1a" textLength="9.60" lengthAdjust="spacingAndGlyphs">F</text>
<line x1="410.30" y1="236.70" x2="410.30" y2="373.10" stroke="#7c7c7c" stroke-width="1.75"/>
<line x1="406.80" y1="372.90" x2="410.30" y2="372.90" stroke="#7c7c7c" stroke-width="1.3"/>
<text x="403.00" y="377.20" font-size="11.8" text-anchor="end" font-weight="normal" fill="#2b2b2b">0</text>
<line x1="406.80" y1="359.28" x2="410.30" y2="359.28" stroke="#7c7c7c" stroke-width="1.3"/>
<line x1="406.80" y1="345.66" x2="410.30" y2="345.66" stroke="#7c7c7c" stroke-width="1.3"/>
<text x="403.00" y="349.96" font-size="11.8" text-anchor="end" font-weight="normal" fill="#2b2b2b">0.4</text>
<line x1="406.80" y1="332.04" x2="410.30" y2="332.04" stroke="#7c7c7c" stroke-width="1.3"/>
<line x1="406.80" y1="318.42" x2="410.30" y2="318.42" stroke="#7c7c7c" stroke-width="1.3"/>
<text x="403.00" y="322.72" font-size="11.8" text-anchor="end" font-weight="normal" fill="#2b2b2b">0.8</text>
<line x1="406.80" y1="304.80" x2="410.30" y2="304.80" stroke="#7c7c7c" stroke-width="1.3"/>
<line x1="406.80" y1="291.18" x2="410.30" y2="291.18" stroke="#7c7c7c" stroke-width="1.3"/>
<text x="403.00" y="295.48" font-size="11.8" text-anchor="end" font-weight="normal" fill="#2b2b2b">1.2</text>
<line x1="406.80" y1="277.56" x2="410.30" y2="277.56" stroke="#7c7c7c" stroke-width="1.3"/>
<line x1="406.80" y1="263.94" x2="410.30" y2="263.94" stroke="#7c7c7c" stroke-width="1.3"/>
<text x="403.00" y="268.24" font-size="11.8" text-anchor="end" font-weight="normal" fill="#2b2b2b">1.6</text>
<line x1="406.80" y1="250.32" x2="410.30" y2="250.32" stroke="#7c7c7c" stroke-width="1.3"/>
<line x1="406.80" y1="236.70" x2="410.30" y2="236.70" stroke="#7c7c7c" stroke-width="1.3"/>
<text x="403.00" y="241.00" font-size="11.8" text-anchor="end" font-weight="normal" fill="#2b2b2b">2</text>
<line x1="410.00" y1="373.10" x2="591.20" y2="373.10" stroke="#7c7c7c" stroke-width="1.75"/>
<line x1="424.35" y1="341.00" x2="424.35" y2="336.40" stroke="#444" stroke-width="0.9"/>
<line x1="423.25" y1="336.40" x2="425.45" y2="336.40" stroke="#444" stroke-width="0.9"/>
<rect x="418.10" y="341.00" width="12.50" height="32.10" fill="#231f20" stroke="#1a1a1a" stroke-width="0.8"/>
<line x1="436.45" y1="310.10" x2="436.45" y2="299.40" stroke="#444" stroke-width="0.9"/>
<line x1="435.35" y1="299.40" x2="437.55" y2="299.40" stroke="#444" stroke-width="0.9"/>
<rect x="430.60" y="310.10" width="11.70" height="63.00" fill="#e2292b" stroke="#1a1a1a" stroke-width="0.8"/>
<line x1="460.90" y1="329.40" x2="460.90" y2="324.70" stroke="#444" stroke-width="0.9"/>
<line x1="459.80" y1="324.70" x2="462.00" y2="324.70" stroke="#444" stroke-width="0.9"/>
<rect x="455.20" y="329.40" width="11.40" height="43.70" fill="#231f20" stroke="#1a1a1a" stroke-width="0.8"/>
<line x1="472.65" y1="307.20" x2="472.65" y2="301.40" stroke="#444" stroke-width="0.9"/>
<line x1="471.55" y1="301.40" x2="473.75" y2="301.40" stroke="#444" stroke-width="0.9"/>
<rect x="466.60" y="307.20" width="12.10" height="65.90" fill="#e2292b" stroke="#1a1a1a" stroke-width="0.8"/>
<line x1="498.60" y1="339.40" x2="498.60" y2="335.10" stroke="#444" stroke-width="0.9"/>
<line x1="497.50" y1="335.10" x2="499.70" y2="335.10" stroke="#444" stroke-width="0.9"/>
<rect x="492.80" y="339.40" width="11.60" height="33.70" fill="#231f20" stroke="#1a1a1a" stroke-width="0.8"/>
<line x1="510.55" y1="320.80" x2="510.55" y2="315.40" stroke="#444" stroke-width="0.9"/>
<line x1="509.45" y1="315.40" x2="511.65" y2="315.40" stroke="#444" stroke-width="0.9"/>
<rect x="504.40" y="320.80" width="12.30" height="52.30" fill="#e2292b" stroke="#1a1a1a" stroke-width="0.8"/>
<line x1="534.80" y1="288.20" x2="534.80" y2="280.10" stroke="#444" stroke-width="0.9"/>
<line x1="533.70" y1="280.10" x2="535.90" y2="280.10" stroke="#444" stroke-width="0.9"/>
<rect x="529.20" y="288.20" width="11.20" height="84.90" fill="#231f20" stroke="#1a1a1a" stroke-width="0.8"/>
<line x1="546.70" y1="263.10" x2="546.70" y2="254.30" stroke="#444" stroke-width="0.9"/>
<line x1="545.60" y1="254.30" x2="547.80" y2="254.30" stroke="#444" stroke-width="0.9"/>
<rect x="540.40" y="263.10" width="12.60" height="110.00" fill="#e2292b" stroke="#1a1a1a" stroke-width="0.8"/>
<line x1="570.50" y1="361.60" x2="570.50" y2="360.30" stroke="#444" stroke-width="0.9"/>
<line x1="569.40" y1="360.30" x2="571.60" y2="360.30" stroke="#444" stroke-width="0.9"/>
<rect x="564.90" y="361.60" width="11.20" height="11.50" fill="#231f20" stroke="#1a1a1a" stroke-width="0.8"/>
<line x1="582.40" y1="360.50" x2="582.40" y2="359.40" stroke="#444" stroke-width="0.9"/>
<line x1="581.30" y1="359.40" x2="583.50" y2="359.40" stroke="#444" stroke-width="0.9"/>
<rect x="576.10" y="360.50" width="12.60" height="12.60" fill="#e2292b" stroke="#1a1a1a" stroke-width="0.8"/>
<path d="M419.10,289.60 V286.60 H435.70 V289.60" fill="none" stroke="#666" stroke-width="1"/>
<path d="M426.50,275.10 L426.50,272.73 M426.50,275.10 L428.88,274.33 M426.50,275.10 L427.97,277.12 M426.50,275.10 L425.03,277.12 M426.50,275.10 L424.12,274.33 " stroke="#1e1e1e" stroke-width="1.55" stroke-linecap="round" fill="none"/>
<path d="M456.40,295.60 V292.60 H472.60 V295.60" fill="none" stroke="#666" stroke-width="1"/>
<path d="M465.80,277.90 L465.80,275.53 M465.80,277.90 L468.18,277.13 M465.80,277.90 L467.27,279.92 M465.80,277.90 L464.33,279.92 M465.80,277.90 L463.42,277.13 " stroke="#1e1e1e" stroke-width="1.55" stroke-linecap="round" fill="none"/>
<path d="M492.70,303.50 V300.50 H508.70 V303.50" fill="none" stroke="#666" stroke-width="1"/>
<path d="M499.70,289.70 L499.70,287.32 M499.70,289.70 L502.08,288.93 M499.70,289.70 L501.17,291.72 M499.70,289.70 L498.23,291.72 M499.70,289.70 L497.32,288.93 " stroke="#1e1e1e" stroke-width="1.55" stroke-linecap="round" fill="none"/>
<text x="409.20" y="390.40" font-size="11" text-anchor="start" font-weight="normal" fill="#2b2b2b" textLength="36.10" lengthAdjust="spacingAndGlyphs">Visc AT</text>
<text x="454.90" y="390.40" font-size="11" text-anchor="start" font-weight="normal" fill="#2b2b2b" textLength="28.50" lengthAdjust="spacingAndGlyphs">Sc AT</text>
<text x="488.50" y="390.40" font-size="11" text-anchor="start" font-weight="normal" fill="#2b2b2b" textLength="37.00" lengthAdjust="spacingAndGlyphs">PeR AT</text>
<text x="529.30" y="390.40" font-size="11" text-anchor="start" font-weight="normal" fill="#2b2b2b" textLength="37.10" lengthAdjust="spacingAndGlyphs">epid AT</text>
<text x="574.60" y="390.40" font-size="11" text-anchor="start" font-weight="normal" fill="#2b2b2b" textLength="18.70" lengthAdjust="spacingAndGlyphs">BAT</text>
<text transform="translate(368.20,346.50) rotate(-90)" font-size="11.3" fill="#2b2b2b" textLength="84.00" lengthAdjust="spacingAndGlyphs">Tissue weight (g)</text>
</svg>
</body></html>
